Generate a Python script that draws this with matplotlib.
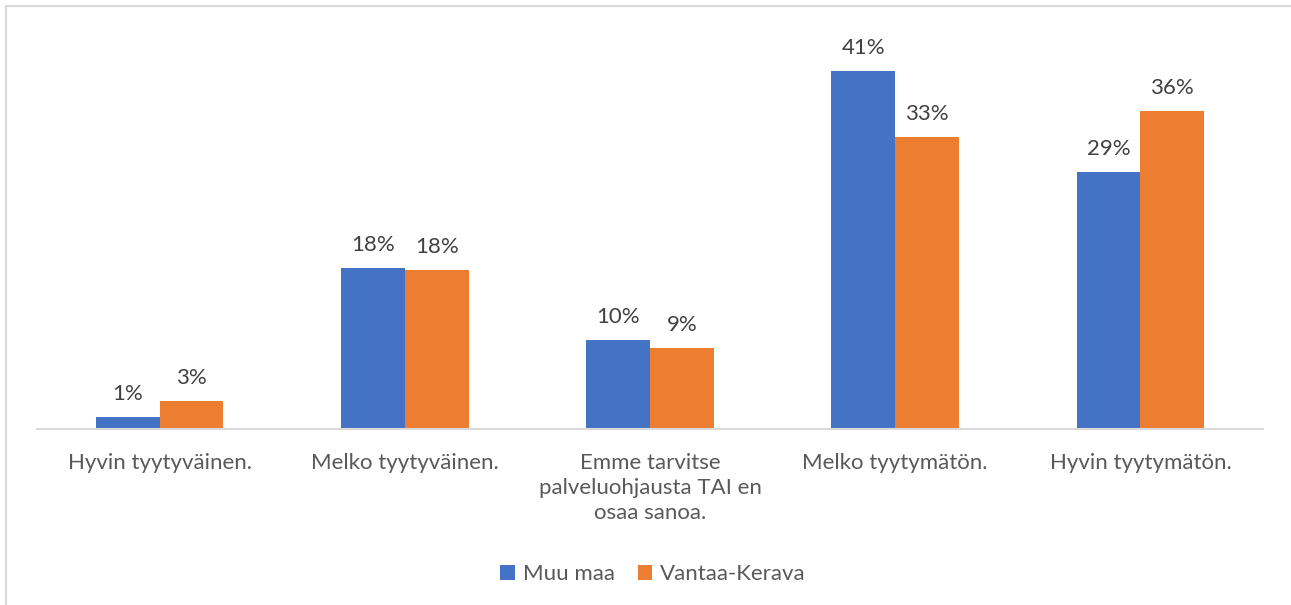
import matplotlib.pyplot as plt
import numpy as np
from matplotlib.patches import Rectangle

plt.rcParams['font.family'] = ['Lato', 'DejaVu Sans']

categories = [
    'Hyvin tyytyväinen.',
    'Melko tyytyväinen.',
    'Emme tarvitse\npalveluohjausta TAI en\nosaa sanoa.',
    'Melko tyytymätön.',
    'Hyvin tyytymätön.',
]
series_names = ['Muu maa', 'Vantaa-Kerava']
muu_maa = [1.4, 18.4, 10.2, 41.0, 29.4]
vantaa_kerava = [3.2, 18.2, 9.3, 33.4, 36.4]

colors = ['#4472C4', '#ED7D31']
text_color = '#595959'

W, H = 1291, 605
fig = plt.figure(figsize=(W / 100, H / 100), dpi=100)

# light outer frame, only the top and left edges fall inside the image
fig.patches.append(Rectangle((6 / W, -0.1), 1.2, 1 - 6 / H + 0.1,
                             transform=fig.transFigure, fill=False,
                             edgecolor='#D9D9D9', linewidth=1.5))

# plot area in pixels: left 37, right 1263, baseline at y=429
left, right, base, top = 37, 1263, 429, 20
ax = fig.add_axes([left / W, 1 - base / H, (right - left) / W, (base - top) / H])

x = np.arange(len(categories))
width = 0.26
for i, (vals, name) in enumerate(zip([muu_maa, vantaa_kerava], series_names)):
    pos = x + (i - 0.5) * width
    bars = ax.bar(pos, vals, width, color=colors[i], label=name)
    for b, v in zip(bars, vals):
        ax.text(b.get_x() + b.get_width() / 2, v + 1.5, f'{round(v)}%',
                ha='center', va='bottom', fontsize=16, color='#404040')

ax.set_xlim(-0.5, len(categories) - 0.5)
ax.set_ylim(0, (base - top) / 8.73)
ax.set_yticks([])
ax.set_xticks(x)
ax.set_xticklabels(categories, fontsize=16, color=text_color, linespacing=1.33)
ax.tick_params(axis='x', length=0, pad=17)
for side in ['top', 'right', 'left']:
    ax.spines[side].set_visible(False)
ax.spines['bottom'].set_color('#D9D9D9')
ax.spines['bottom'].set_linewidth(1.5)

fig.legend(loc='center', bbox_to_anchor=(653 / W, 1 - 574 / H), ncol=2,
           frameon=False, fontsize=16, handlelength=0.65, handleheight=0.65,
           handletextpad=0.35, columnspacing=1.05, labelcolor=text_color)

fig.savefig('out.png', dpi=100)
